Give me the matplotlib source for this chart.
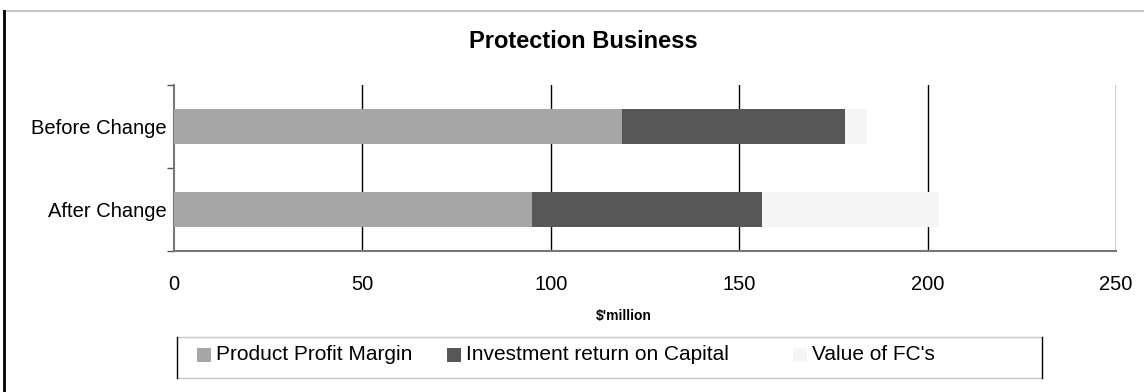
#Protection Business - stacked horizontal bars

#Libraries
import matplotlib
matplotlib.use("Agg")
import matplotlib.pyplot as plt
from matplotlib.patches import Rectangle
from matplotlib.lines import Line2D

#Data
categories = ["After Change", "Before Change"]
profit_margin = [95, 119]
investment_return = [61, 59]
value_fcs = [47, 6]
series_labels = ["Product Profit Margin", "Investment return on Capital", "Value of FC's"]
series_colors = ["#a6a6a6", "#575757", "#f5f5f5"]
x_ticks = [0, 50, 100, 150, 200, 250]

plt.rcParams['font.family'] = ['Liberation Sans', 'DejaVu Sans']

W, H = 1144, 392
fig = plt.figure(figsize=(W / 100, H / 100), dpi=100)
ax = fig.add_axes([174 / W, 1 - 251 / H, (1116 - 174) / W, (251 - 85) / H])

#Stacked bars
left = [0, 0]
for vals, lab, col in zip([profit_margin, investment_return, value_fcs], series_labels, series_colors):
    ax.barh(range(len(categories)), vals, left=left, height=0.41, color=col, label=lab, zorder=3)
    left = [l + v for l, v in zip(left, vals)]

ax.set_xlim(0, 250)
ax.set_ylim(-0.5, 1.5)
ax.set_xticks(x_ticks)
ax.set_xticklabels([str(t) for t in x_ticks], fontsize=14.5)
ax.tick_params(axis='x', length=0, pad=17)
ax.set_yticks(range(len(categories)))
ax.set_yticklabels(categories, fontsize=14.5)
ax.tick_params(axis='y', length=0, pad=5)
# y separators ticks
ax.set_yticks([-0.5, 0.5, 1.5], minor=True)
ax.tick_params(axis='y', which='minor', length=5, width=1, color='#555555', direction='out')

for x in x_ticks[1:]:
    ax.axvline(x, color='black', lw=1, zorder=1)

for s in ['top', 'right']:
    ax.spines[s].set_visible(False)
ax.spines['left'].set_color('#777777')
ax.spines['left'].set_linewidth(1.5)
ax.spines['bottom'].set_color('#777777')
ax.spines['bottom'].set_linewidth(1.5)

fig.text(624 / W, 1 - 316 / H, "$'million", fontsize=10, fontweight='bold', ha='center', va='center')
fig.text(583 / W, 1 - 42 / H, "Protection Business", fontsize=17, fontweight='bold',
         ha='center', va='center')

#Outer frame
fig.add_artist(Line2D([4 / W, 1], [1 - 11 / H, 1 - 11 / H], color='#c8c8c8', lw=1.5))
fig.add_artist(Line2D([4 / W, 4 / W], [0, 1 - 11 / H], color='black', lw=2))

#Legend box
lx0, lx1, ly0, ly1 = 177 / W, 1042 / W, 1 - 378 / H, 1 - 337 / H
fig.add_artist(Line2D([lx0, lx1], [ly1, ly1], color='#c8c8c8', lw=1))
fig.add_artist(Line2D([lx0, lx1], [ly0, ly0], color='#c8c8c8', lw=1))
fig.add_artist(Line2D([lx0, lx0], [ly0, ly1], color='black', lw=1))
fig.add_artist(Line2D([lx1, lx1], [ly0, ly1], color='black', lw=1))
for xpos, lab, col in zip([197, 447, 793], series_labels, series_colors):
    fig.add_artist(Rectangle((xpos / W, 1 - 362 / H), 14 / W, 14 / H, transform=fig.transFigure,
                             facecolor=col, edgecolor='none'))
    fig.text((xpos + 19) / W, 1 - 355 / H, lab, fontsize=15, ha='left', va='center')

fig.savefig("out.png", dpi=100)
